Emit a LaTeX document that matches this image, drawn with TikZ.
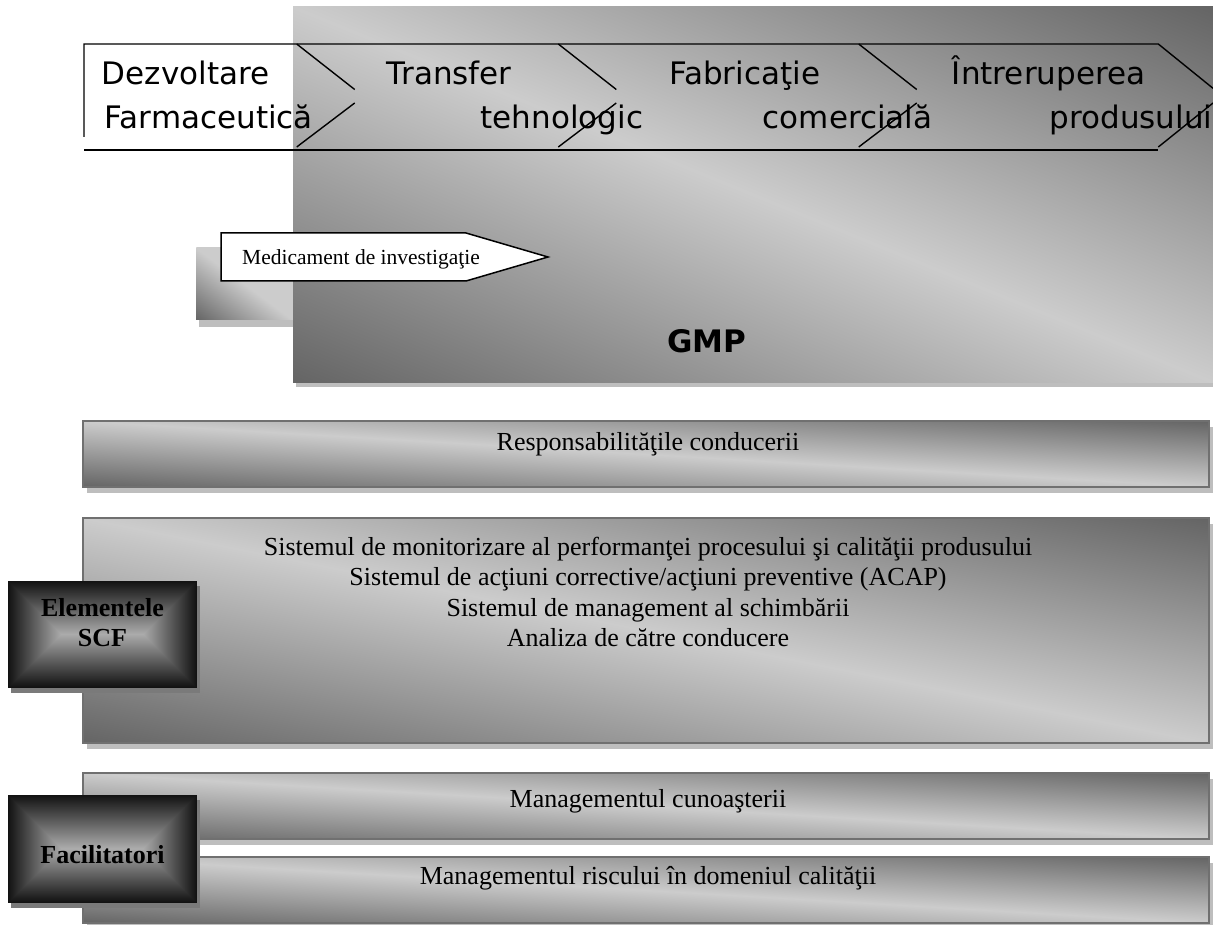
\documentclass[tikz,border=0pt]{standalone}
\usepackage{fontspec}
\setmainfont{Liberation Serif}
\newfontfamily\vfont{DejaVu Sans}
\definecolor{dk}{HTML}{646464}
\definecolor{lt}{HTML}{CCCCCC}
\definecolor{shadowc}{HTML}{BEBEBE}
\definecolor{bordc}{HTML}{707070}
\definecolor{dshadow}{HTML}{7A7A7A}
\pgfdeclarehorizontalshading{diagband}{100bp}{color(0bp)=(dk); color(25bp)=(dk); color(50bp)=(lt); color(75bp)=(dk); color(100bp)=(dk)}
\pgfdeclarehorizontalshading{cornershade}{100bp}{color(0bp)=(dk); color(25bp)=(dk); color(50bp)=(lt); color(100bp)=(lt)}
\newcommand{\diagfill}[5]{%
  \begin{scope}
    \clip (#1,#2) rectangle (#3,#4);
    \pgfmathsetmacro\dgcx{(#1+#3)/2}
    \pgfmathsetmacro\dgcy{(#2+#4)/2}
    \pgfmathsetmacro\dgw{(#3-#1)/2}
    \pgfmathsetmacro\dgh{(#4-#2)/2}
    \begin{scope}[transform canvas={shift={(\dgcx,\dgcy)}, xscale=\dgw, yscale=\dgh, rotate=45}]
      \shade[shading=#5] (-1.42,-1.42) rectangle (1.42,1.42);
    \end{scope}
  \end{scope}}
\tikzset{
  chev/.style={line width=1.4pt, black},
  phase/.style={font=\vfont\fontsize{31}{37}\selectfont, inner sep=0pt},
  bandborder/.style={draw=bordc, line width=2pt},
  bandtext/.style={font=\fontsize{26}{30}\selectfont, inner sep=0pt, anchor=base},
  darktext/.style={font=\bfseries\fontsize{26}{30}\selectfont, inner sep=0pt, anchor=base},
  shadowfill/.style={fill=shadowc},
  darkshadow/.style={fill=dshadow},
}
\begin{document}
\begin{tikzpicture}[x=1pt,y=-1pt]
\useasboundingbox (0,0) rectangle (1213,925);

% ---------- GMP area ----------
\fill[shadowfill] (199,254) rectangle (296,327);
\diagfill{196}{248}{293}{320}{cornershade}
\fill[shadowfill] (296,13) rectangle (1213,387);
\diagfill{293}{7}{1213}{382}{diagband}

% ---------- phase chevrons ----------
\draw[chev] (84,137) -- (84,44) -- (1158.3,44) -- (1213,88.3);
\draw[chev] (84,150) -- (1158.3,150);
\draw[chev] (1158.3,147) -- (1213,103);
\foreach \x in {296.7,558.3,858.7}{
  \draw[chev] (\x,44) -- (\x+58,89.5);
  \draw[chev] (\x+58,103) -- (\x,147);
}
\node[phase, anchor=base west] (p1a) at (101.7,85) {Dezvoltare};
\node[phase, anchor=base east] (p1b) at (313,128.3) {Farmaceutică};
\node[phase, anchor=base west] (p2a) at (386.7,85) {Transfer};
\node[phase, anchor=base east] (p2b) at (643.3,128.3) {tehnologic};
\node[phase, anchor=base west] (p3a) at (669,85) {Fabricaţie};
\node[phase, anchor=base east] (p3b) at (932.7,128.3) {comercială};
\node[phase, anchor=base west] (p4a) at (951.7,85) {Întreruperea};
\node[phase, anchor=base east] (p4b) at (1212.5,128.3) {produsului};

% ---------- investigational medicine arrow ----------
\draw[line width=1.5pt, fill=white] (221,233) -- (466,233) -- (548,257) -- (466,281) -- (221,281) -- cycle;
\node[anchor=base west, inner sep=0pt, font=\fontsize{21.5}{25}\selectfont] (med) at (242,265) {Medicament de investigaţie};

\node[anchor=base, inner sep=0pt, font=\vfont\bfseries\fontsize{31}{36}\selectfont] (gmp) at (706.5,352.7) {GMP};

% ---------- bands ----------
\fill[shadowfill] (87,427) rectangle (1213,493);
\diagfill{83}{421}{1209}{487}{diagband}
\draw[bandborder] (83,421) rectangle (1209,487);
\node[bandtext] (resp) at (648,450) {Responsabilităţile conducerii};

\fill[shadowfill] (87,524) rectangle (1213,749);
\diagfill{83}{518}{1209}{743}{diagband}
\draw[bandborder] (83,518) rectangle (1209,743);
\node[bandtext] (scf1) at (648,555) {Sistemul de monitorizare al performanţei procesului şi calităţii produsului};
\node[bandtext] (scf2) at (648,585.5) {Sistemul de acţiuni corrective/acţiuni preventive (ACAP)};
\node[bandtext] (scf3) at (648,616) {Sistemul de management al schimbării};
\node[bandtext] (scf4) at (648,646.5) {Analiza de către conducere};

\fill[shadowfill] (87,779) rectangle (1213,845);
\diagfill{83}{773}{1209}{839}{diagband}
\draw[bandborder] (83,773) rectangle (1209,839);
\node[bandtext] (km) at (648,807) {Managementul cunoaşterii};

\fill[shadowfill] (87,863) rectangle (1213,925);
\diagfill{83}{857}{1209}{923}{diagband}
\draw[bandborder] (83,857) rectangle (1209,923);
\node[bandtext] (qrm) at (648,884) {Managementul riscului în domeniul calităţii};

% ---------- dark boxes ----------
\fill[darkshadow] (11,586) rectangle (200,693);
\foreach \i in {0,...,53}{
  \pgfmathsetmacro\q{93-\i*1.13}
  \fill[black!\q] (8+\i,581+\i) rectangle (197-\i,688-\i);
}
\node[darktext] (el1) at (102.5,616.7) {Elementele};
\node[darktext] (el2) at (102.5,646.7) {SCF};

\fill[darkshadow] (11,800) rectangle (200,908);
\foreach \i in {0,...,53}{
  \pgfmathsetmacro\q{93-\i*1.13}
  \fill[black!\q] (8+\i,795+\i) rectangle (197-\i,903-\i);
}
\node[darktext] (fac) at (102.5,863) {Facilitatori};
\end{tikzpicture}
\end{document}
